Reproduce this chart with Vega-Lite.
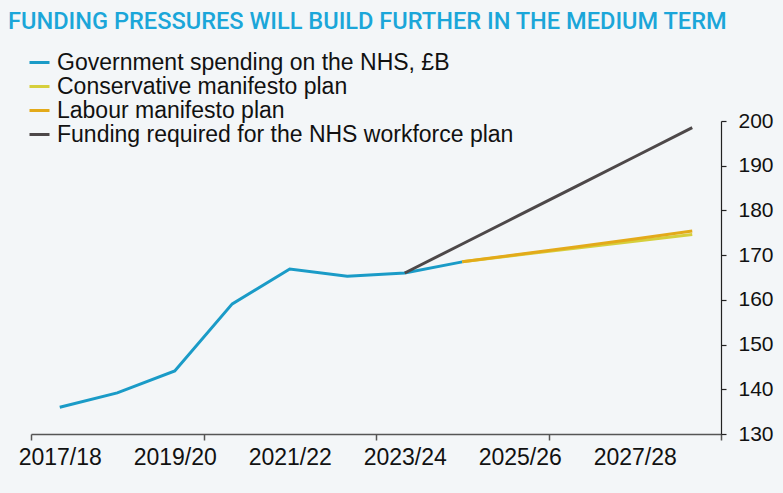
{
  "$schema": "https://vega.github.io/schema/vega-lite/v6.json",
  "width": 690,
  "height": 313,
  "autosize": {"type": "none"},
  "padding": {"left": 31, "top": 121, "right": 62, "bottom": 59},
  "background": "#f3f6f8",
  "config": {
    "view": {"stroke": null},
    "font": "Liberation Sans"
  },
  "title": {
    "text": "FUNDING PRESSURES WILL BUILD FURTHER IN THE MEDIUM TERM",
    "anchor": "start",
    "frame": "group",
    "font": "Roboto",
    "fontSize": 23.6,
    "fontWeight": 500,
    "color": "#1ba6d9",
    "dx": -23,
    "offset": 17
  },
  "data": {
    "values": [
      {"year": 2017, "series": "Government spending on the NHS, £B", "value": 136.0},
      {"year": 2018, "series": "Government spending on the NHS, £B", "value": 139.2},
      {"year": 2019, "series": "Government spending on the NHS, £B", "value": 144.1},
      {"year": 2020, "series": "Government spending on the NHS, £B", "value": 159.1},
      {"year": 2021, "series": "Government spending on the NHS, £B", "value": 166.9},
      {"year": 2022, "series": "Government spending on the NHS, £B", "value": 165.3},
      {"year": 2023, "series": "Government spending on the NHS, £B", "value": 166.0},
      {"year": 2024, "series": "Government spending on the NHS, £B", "value": 168.5},
      {"year": 2024, "series": "Conservative manifesto plan", "value": 168.5},
      {"year": 2025, "series": "Conservative manifesto plan", "value": 170.1},
      {"year": 2026, "series": "Conservative manifesto plan", "value": 171.6},
      {"year": 2027, "series": "Conservative manifesto plan", "value": 173.1},
      {"year": 2028, "series": "Conservative manifesto plan", "value": 174.6},
      {"year": 2024, "series": "Labour manifesto plan", "value": 168.5},
      {"year": 2025, "series": "Labour manifesto plan", "value": 170.2},
      {"year": 2026, "series": "Labour manifesto plan", "value": 171.9},
      {"year": 2027, "series": "Labour manifesto plan", "value": 173.6},
      {"year": 2028, "series": "Labour manifesto plan", "value": 175.4},
      {"year": 2023, "series": "Funding required for the NHS workforce plan", "value": 166.0},
      {"year": 2024, "series": "Funding required for the NHS workforce plan", "value": 172.5},
      {"year": 2025, "series": "Funding required for the NHS workforce plan", "value": 179.0},
      {"year": 2026, "series": "Funding required for the NHS workforce plan", "value": 185.5},
      {"year": 2027, "series": "Funding required for the NHS workforce plan", "value": 192.0},
      {"year": 2028, "series": "Funding required for the NHS workforce plan", "value": 198.5}
    ]
  },
  "encoding": {
    "x": {
      "field": "year",
      "type": "quantitative",
      "scale": {"domain": [2016.5, 2028.5], "nice": false, "zero": false},
      "axis": {
        "title": null,
        "grid": false,
        "values": [2016.5, 2017, 2019, 2019.5, 2021, 2022.5, 2023, 2025, 2025.5, 2027, 2028.5],
        "labelExpr": "datum.value % 1 != 0 ? '' : datum.value + '/' + ((datum.value + 1) % 100)",
        "tickOpacity": {"condition": {"test": "datum.value % 1 != 0", "value": 1}, "value": 0},
        "tickSize": 6,
        "tickColor": "#555555",
        "tickWidth": 1.5,
        "domainColor": "#555555",
        "domainWidth": 1.5,
        "labelFont": "Liberation Sans",
        "labelFontSize": 23,
        "labelColor": "#111111",
        "labelPadding": 6,
        "labelFlush": false,
        "labelOverlap": false,
        "labelBaseline": "top"
      }
    },
    "y": {
      "field": "value",
      "type": "quantitative",
      "scale": {"domain": [130, 200], "nice": false, "zero": false},
      "axis": {
        "orient": "right",
        "title": null,
        "grid": false,
        "values": [130, 140, 150, 160, 170, 180, 190, 200],
        "tickSize": 5,
        "tickColor": "#222222",
        "tickWidth": 1.2,
        "domainColor": "#222222",
        "domainWidth": 1.2,
        "labelFont": "Liberation Sans",
        "labelFontSize": 21,
        "labelColor": "#111111",
        "labelPadding": 12,
        "labelFlush": false,
        "labelOverlap": false
      }
    },
    "color": {
      "field": "series",
      "type": "nominal",
      "scale": {
        "domain": ["Government spending on the NHS, £B", "Conservative manifesto plan", "Labour manifesto plan", "Funding required for the NHS workforce plan"],
        "range": ["#1a9bc7", "#d6cf3c", "#e3aa1a", "#4d4849"]
      },
      "legend": {
        "title": null,
        "orient": "none",
        "legendX": -3,
        "legendY": -70,
        "padding": 0,
        "symbolType": "stroke",
        "symbolSize": 400,
        "symbolStrokeWidth": 3,
        "labelFont": "Liberation Sans",
        "labelFontSize": 23,
        "labelColor": "#111111",
        "labelOffset": 6,
        "rowPadding": -1,
        "labelLimit": 600
      }
    }
  },
  "layer": [
    {
      "transform": [{"filter": "datum.series == 'Government spending on the NHS, £B'"}],
      "mark": {"type": "line", "strokeWidth": 3}
    },
    {
      "transform": [{"filter": "datum.series == 'Funding required for the NHS workforce plan'"}],
      "mark": {"type": "line", "strokeWidth": 3}
    },
    {
      "transform": [{"filter": "datum.series == 'Conservative manifesto plan'"}],
      "mark": {"type": "line", "strokeWidth": 3}
    },
    {
      "transform": [{"filter": "datum.series == 'Labour manifesto plan'"}],
      "mark": {"type": "line", "strokeWidth": 3}
    }
  ]
}
